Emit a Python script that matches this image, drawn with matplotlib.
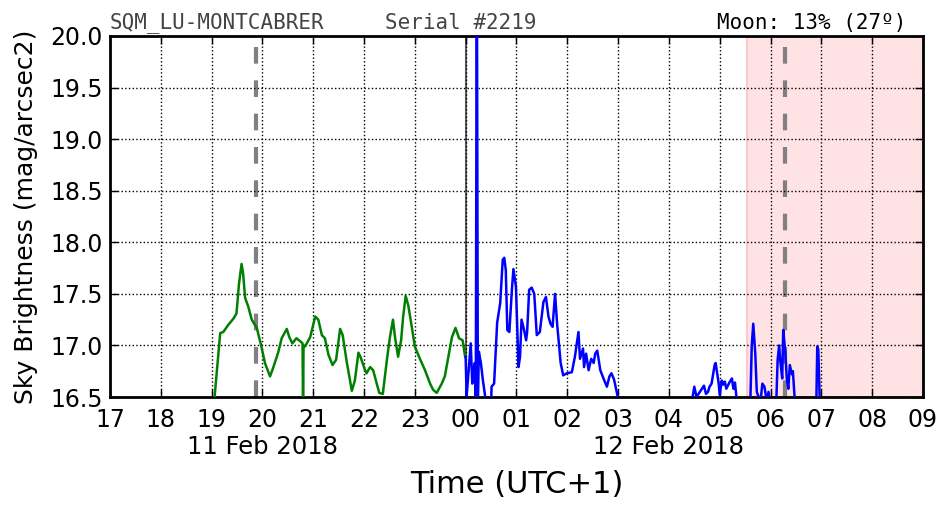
import matplotlib
matplotlib.use('Agg')
import matplotlib.pyplot as plt
from matplotlib import transforms

# hours since 00:00 of 11 Feb 2018 (local time, UTC+1)
green_t = [19.05, 19.17, 19.23, 19.33, 19.43, 19.49, 19.54, 19.59, 19.62, 19.66, 19.72, 19.79,
           19.89, 19.98, 20.05, 20.15, 20.21, 20.31, 20.38, 20.48, 20.53, 20.59, 20.67, 20.77,
           20.79, 20.80, 20.81, 20.84, 20.94, 21.04, 21.10, 21.17, 21.23, 21.30, 21.38, 21.45,
           21.53, 21.58, 21.66, 21.76, 21.82, 21.89, 21.93, 22.02, 22.05, 22.12, 22.18, 22.25,
           22.30, 22.37, 22.45, 22.51, 22.57, 22.61, 22.67, 22.73, 22.77, 22.82, 22.87, 22.94,
           23.00, 23.10, 23.20, 23.30, 23.36, 23.43, 23.53, 23.59, 23.66, 23.73, 23.80, 23.87,
           23.94, 23.99]
green_v = [16.45, 17.12, 17.13, 17.20, 17.26, 17.31, 17.60, 17.79, 17.70, 17.46, 17.38, 17.25,
           17.17, 16.99, 16.83, 16.70, 16.78, 16.93, 17.07, 17.16, 17.08, 17.02, 17.07, 17.03,
           17.02, 16.40, 17.00, 16.99, 17.08, 17.28, 17.25, 17.10, 17.07, 16.91, 16.81, 16.86,
           17.16, 17.10, 16.84, 16.56, 16.66, 16.93, 16.89, 16.76, 16.73, 16.79, 16.76, 16.63,
           16.54, 16.53, 16.86, 17.08, 17.25, 17.08, 16.89, 17.05, 17.28, 17.48, 17.39, 17.18,
           16.99, 16.87, 16.76, 16.63, 16.57, 16.54, 16.63, 16.70, 16.89, 17.08, 17.17, 17.07,
           17.05, 16.89]

blue_t = [24.00, 24.02, 24.05, 24.10, 24.13, 24.15, 24.18, 24.20, 24.22, 24.24, 24.26, 24.30,
          24.34, 24.40, 24.50, 24.51, 24.56, 24.62, 24.68, 24.73, 24.76, 24.79, 24.82, 24.86,
          24.91, 24.94, 24.99, 25.04, 25.07, 25.10, 25.15, 25.19, 25.21, 25.25, 25.30, 25.35,
          25.40, 25.46, 25.53, 25.58, 25.63, 25.67, 25.71, 25.76, 25.80, 25.87, 25.92, 25.99,
          26.09, 26.15, 26.22, 26.25, 26.31, 26.33, 26.37, 26.42, 26.47, 26.52, 26.55, 26.59,
          26.65, 26.72, 26.78, 26.83, 26.87, 26.92, 26.99, 27.05,
          28.45, 28.47, 28.50, 28.54, 28.57, 28.65, 28.69, 28.73, 28.77, 28.80, 28.84, 28.90,
          28.92, 28.98, 29.00, 29.04, 29.07, 29.10, 29.13, 29.19, 29.24, 29.27, 29.30, 29.34,
          29.60, 29.63, 29.66, 29.70, 29.73, 29.80, 29.84, 29.88, 29.93, 29.96, 29.99, 30.02,
          30.11, 30.14, 30.17, 30.19, 30.23, 30.25, 30.29, 30.32, 30.35, 30.38, 30.42, 30.44,
          30.48, 30.90, 30.92, 30.94, 30.97]
blue_v = [16.89, 16.51, 16.70, 17.02, 16.63, 16.76, 16.83, 16.50, 21.00, 16.45, 16.94, 16.83,
          16.66, 16.45, 16.40, 16.60, 16.63, 17.22, 17.41, 17.83, 17.85, 17.73, 17.15, 17.13,
          17.54, 17.74, 17.57, 16.79, 16.89, 17.25, 17.15, 17.05, 17.13, 17.54, 17.56, 17.50,
          17.10, 17.13, 17.42, 17.47, 17.28, 17.21, 17.18, 17.50, 17.21, 16.83, 16.71, 16.73,
          16.74, 16.89, 17.13, 16.87, 16.97, 16.79, 16.92, 16.76, 16.87, 16.83, 16.92, 16.95,
          16.76, 16.67, 16.60, 16.70, 16.73, 16.67, 16.51, 16.40,
          16.40, 16.51, 16.60, 16.51, 16.52, 16.58, 16.61, 16.53, 16.55, 16.60, 16.63, 16.81,
          16.83, 16.63, 16.52, 16.66, 16.62, 16.65, 16.58, 16.64, 16.68, 16.58, 16.64, 16.45,
          16.40, 16.99, 17.21, 16.92, 16.55, 16.45, 16.63, 16.60, 16.45, 16.55, 16.45, 16.40,
          16.40, 16.86, 17.00, 16.86, 16.68, 17.15, 16.94, 16.68, 16.58, 16.81, 16.72, 16.75,
          16.45, 16.40, 16.99, 16.96, 16.45]

sunset_line = 19.87
sunrise_line = 30.29
midnight = 24.0
twilight_start = 29.54

xticks = list(range(17, 34))
xlabels = ['%02d' % (h % 24) for h in xticks]
yticks = [16.5, 17.0, 17.5, 18.0, 18.5, 19.0, 19.5, 20.0]

fig = plt.figure(figsize=(9.52, 5.12), dpi=100)
ax = fig.add_axes([0.1155, 0.2246, 0.854, 0.7051])

ax.axvspan(twilight_start, 33, facecolor='#ffe2e4', edgecolor='#ffc8cc', linewidth=1.5, zorder=0)
ax.axvline(sunset_line, color='grey', linestyle='--', linewidth=3, dashes=(4, 4), zorder=1)
ax.axvline(sunrise_line, color='grey', linestyle='--', linewidth=3, dashes=(4, 4), zorder=1)
ax.axvline(midnight, color='#606060', linewidth=1.5, zorder=1)

ax.plot(green_t, green_v, color='green', linewidth=1.8, zorder=3)
ax.plot(blue_t, blue_v, color='blue', linewidth=1.8, zorder=3)

ax.set_xlim(17, 33)
ax.set_ylim(16.5, 20.0)
ax.set_xticks(xticks)
ax.set_xticklabels(xlabels)
ax.set_yticks(yticks)
ax.set_yticklabels(['%.1f' % v for v in yticks])
ax.grid(True, color='black', linestyle=':', linewidth=1)
ax.tick_params(direction='in', length=6, width=1, top=True, right=True, labelsize=17, pad=5)
ax.tick_params(axis='x', pad=8)
for s in ax.spines.values():
    s.set_linewidth(2)

trans = transforms.blended_transform_factory(ax.transData, ax.transAxes)
ax.text(20, -0.105, '11 Feb 2018', transform=trans, ha='center', va='top', fontsize=17.5)
ax.text(28, -0.105, '12 Feb 2018', transform=trans, ha='center', va='top', fontsize=17.5)

ax.set_xlabel('Time (UTC+1)', fontsize=22, labelpad=27)
ax.set_ylabel('Sky Brightness (mag/arcsec2)', fontsize=18, labelpad=9)

ax.text(0.0, 1.008, 'SQM_LU-MONTCABRER', transform=ax.transAxes, ha='left', va='bottom',
        family='DejaVu Sans Mono', fontsize=15, color='#444444')
ax.text(0.338, 1.008, 'Serial #2219', transform=ax.transAxes, ha='left', va='bottom',
        family='DejaVu Sans Mono', fontsize=15, color='#444444')
ax.text(0.98, 1.008, 'Moon: 13% (27º)', transform=ax.transAxes, ha='right', va='bottom',
        family='DejaVu Sans Mono', fontsize=15, color='black')

fig.savefig('out.png', dpi=100)
